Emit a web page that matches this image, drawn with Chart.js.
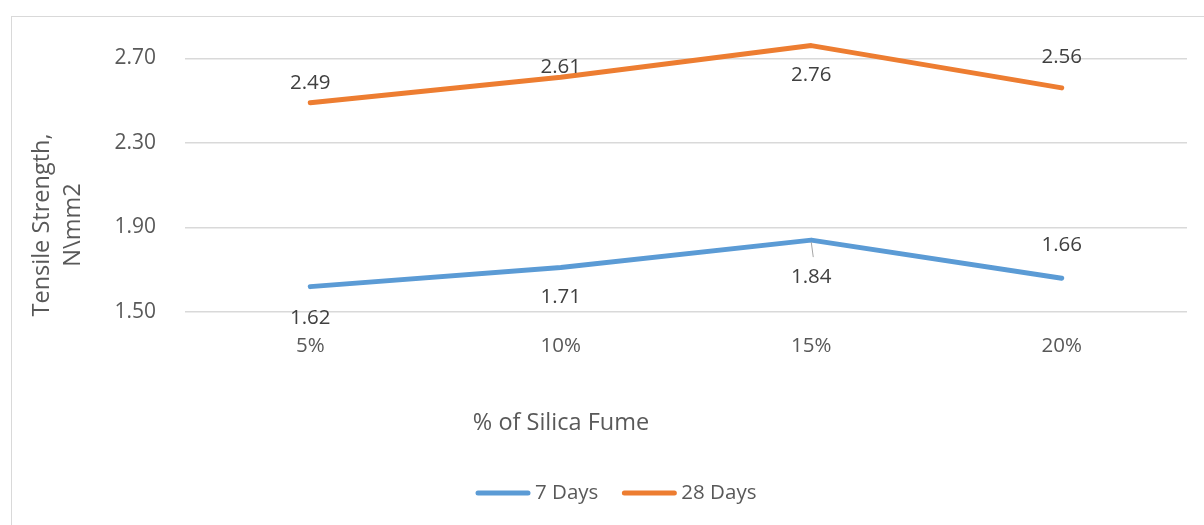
<!DOCTYPE html>
<html>
<head>
<meta charset="utf-8">
<script src="https://cdn.jsdelivr.net/npm/chart.js@4/dist/chart.umd.min.js"></script>
<style>
  html, body { margin: 0; padding: 0; background: #fff; }
  #wrap { width: 1204px; height: 525px; position: relative; }
</style>
</head>
<body>
<div id="wrap"><canvas id="tensile"></canvas></div>
<script>
const silicaFume = ['5%', '10%', '15%', '20%'];
const days7 = [1.62, 1.71, 1.84, 1.66];
const days28 = [2.49, 2.61, 2.76, 2.56];
const yTicks = [1.5, 1.9, 2.3, 2.7];

// vertical shift of each value label from its point (px), per series
const labelShift7 = [32, 30, 37, -33];
const labelShift28 = [-20, -10, 30, -31];

const FONT = '"Open Sans", sans-serif';
const TEXT = '#595959';
const BLUE = '#5B9BD5';
const ORANGE = '#ED7D31';

const frame = {
    id: 'frame',
    beforeDraw (chart) {
        const ctx = chart.ctx;
        ctx.save();
        ctx.strokeStyle = '#D9D9D9';
        ctx.lineWidth = 1;
        ctx.strokeRect(11.5, 16.5, 1300, 600);
        ctx.restore();
    }
};

const valueLabels = {
    id: 'valueLabels',
    afterDatasetsDraw (chart) {
        const ctx = chart.ctx;
        const shifts = [labelShift7, labelShift28];
        ctx.save();
        ctx.font = '20.5px ' + FONT;
        ctx.fillStyle = '#404040';
        ctx.textAlign = 'center';
        ctx.textBaseline = 'middle';
        chart.data.datasets.forEach((ds, i) => {
            chart.getDatasetMeta(i).data.forEach((pt, j) => {
                const dy = shifts[i][j];
                // leader line where the label sits well clear of its point
                if (dy > 35) {
                    ctx.strokeStyle = '#A6A6A6';
                    ctx.lineWidth = 1;
                    ctx.beginPath();
                    ctx.moveTo(pt.x, pt.y + 2);
                    ctx.lineTo(pt.x + 2, pt.y + 17);
                    ctx.stroke();
                }
                ctx.fillText(ds.data[j].toFixed(2), pt.x, pt.y + dy);
            });
        });
        ctx.restore();
    }
};

const titlesAndLegend = {
    id: 'titlesAndLegend',
    afterDraw (chart) {
        const ctx = chart.ctx;
        ctx.save();
        ctx.fillStyle = TEXT;
        ctx.font = '23.5px ' + FONT;
        ctx.textAlign = 'center';
        ctx.textBaseline = 'middle';

        // y axis title, two lines
        ctx.save();
        ctx.translate(57, 225);
        ctx.rotate(-Math.PI / 2);
        ctx.fillText('Tensile Strength,', 0, -15);
        ctx.fillText('N\\mm2', 0, 16);
        ctx.restore();

        // x axis title
        ctx.fillText('% of Silica Fume', 561, 423);

        // legend
        ctx.font = '20.5px ' + FONT;
        ctx.textAlign = 'left';
        const lineLen = 54, gap = 5, itemGap = 24;
        let x = 476;
        const y = 493;
        chart.data.datasets.forEach(ds => {
            ctx.strokeStyle = ds.borderColor;
            ctx.lineWidth = 5;
            ctx.lineCap = 'round';
            ctx.beginPath();
            ctx.moveTo(x + 2, y);
            ctx.lineTo(x + lineLen - 2, y);
            ctx.stroke();
            ctx.fillText(ds.label, x + lineLen + gap, y);
            x += lineLen + gap + ctx.measureText(ds.label).width + itemGap;
        });
        ctx.restore();
    }
};

new Chart(
    document.getElementById('tensile'),
    {
        type: 'line',
        data: {
            labels: silicaFume,
            datasets: [
                {
                    label: '7 Days',
                    data: days7,
                    borderColor: BLUE,
                    backgroundColor: BLUE,
                    borderWidth: 5,
                    borderCapStyle: 'round',
                    borderJoinStyle: 'round',
                    pointRadius: 0,
                    tension: 0
                },
                {
                    label: '28 Days',
                    data: days28,
                    borderColor: ORANGE,
                    backgroundColor: ORANGE,
                    borderWidth: 5,
                    borderCapStyle: 'round',
                    borderJoinStyle: 'round',
                    pointRadius: 0,
                    tension: 0
                }
            ]
        },
        options: {
            responsive: true,
            maintainAspectRatio: false,
            animation: false,
            layout: {
                padding: { left: 0, top: 16, right: 17, bottom: 0 }
            },
            plugins: {
                legend: { display: false },
                tooltip: { enabled: false },
                title: { display: false }
            },
            scales: {
                x: {
                    offset: true,
                    border: { display: false },
                    grid: { display: false, drawTicks: false },
                    ticks: {
                        color: TEXT,
                        font: { family: FONT, size: 20.5 },
                        padding: 22
                    },
                    afterFit: (scale) => {
                        scale.height = 213;
                        scale.paddingLeft = 0;
                        scale.paddingRight = 0;
                    }
                },
                y: {
                    min: 1.5,
                    max: 2.9,
                    border: { display: false },
                    grid: { color: '#D9D9D9', lineWidth: 1.5, drawTicks: false },
                    ticks: {
                        color: TEXT,
                        font: { family: FONT, size: 21 },
                        padding: 29,
                        callback: (v) => Number(v).toFixed(2)
                    },
                    afterBuildTicks: (scale) => {
                        scale.ticks = yTicks.map(v => ({ value: v }));
                    },
                    afterFit: (scale) => {
                        scale.width = 185;
                        scale.paddingTop = 0;
                        scale.paddingBottom = 0;
                    }
                }
            }
        },
        plugins: [frame, valueLabels, titlesAndLegend]
    }
);
</script>
</body>
</html>
